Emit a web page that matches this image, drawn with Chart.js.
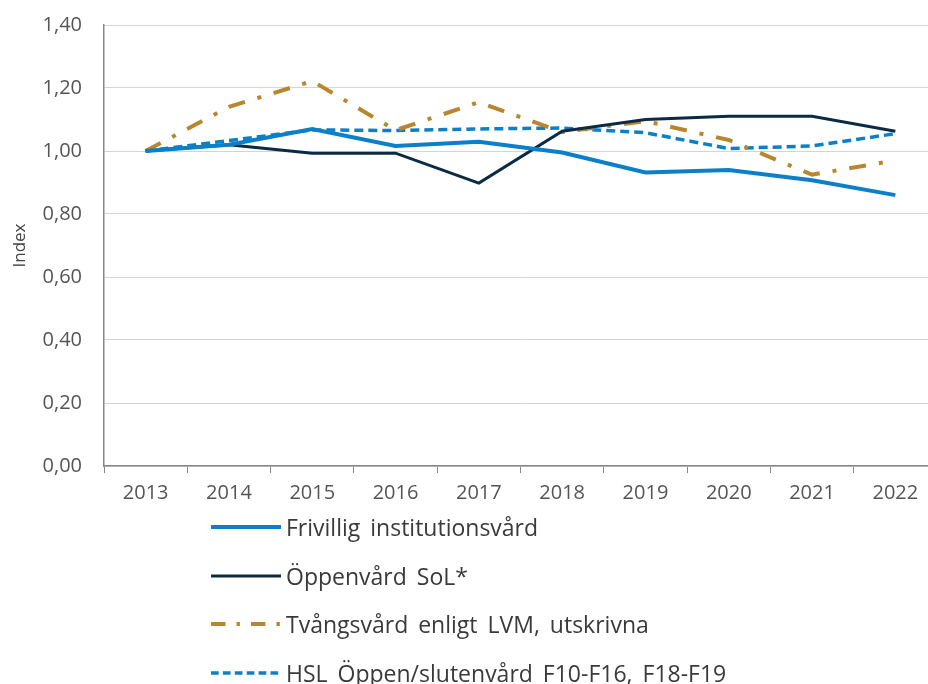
<!DOCTYPE html>
<html>
<head>
<meta charset="utf-8">
<script src="https://cdn.jsdelivr.net/npm/chart.js@4"></script>
<style>
    body { margin: 0; background: #fff; overflow: hidden; width: 928px; height: 684px; position: relative; }
    #wrap { position: absolute; left: 0; top: -9px; width: 937px; height: 519px; }
    #legend { position: absolute; left: 210px; top: 503px; font-family: "Open Sans", sans-serif; font-weight: 400; font-size: 23px; color: #3a3a3a; word-spacing: 4px; }
    .item { position: relative; height: 48.5px; display: flex; align-items: center; }
    .item svg { width: 72px; height: 10px; margin-right: 4px; }
</style>
</head>
<body>
<div id="wrap"><canvas id="chart"></canvas></div>
<div id="legend"></div>
<script>
const years = ['2013', '2014', '2015', '2016', '2017', '2018', '2019', '2020', '2021', '2022'];
const frivillig = [1.00, 1.02, 1.07, 1.016, 1.029, 0.995, 0.932, 0.94, 0.907, 0.86];
const oppenvard = [1.00, 1.02, 0.993, 0.993, 0.898, 1.063, 1.10, 1.11, 1.11, 1.063];
const tvangsvard = [1.00, 1.14, 1.222, 1.066, 1.155, 1.06, 1.095, 1.035, 0.925, 0.97];
const hsl = [1.00, 1.033, 1.067, 1.065, 1.07, 1.073, 1.058, 1.008, 1.016, 1.055];
const yTicks = [0, 0.2, 0.4, 0.6, 0.8, 1.0, 1.2, 1.4];

const seriesNames = [
    'Frivillig institutionsvård',
    'Öppenvård SoL*',
    'Tvångsvård enligt LVM, utskrivna',
    'HSL Öppen/slutenvård F10-F16, F18-F19'
];

const datasets = [
    { label: seriesNames[0], data: frivillig, borderColor: '#0b80c9', borderWidth: 4 },
    { label: seriesNames[1], data: oppenvard, borderColor: '#0b2b45', borderWidth: 3 },
    { label: seriesNames[2], data: tvangsvard, borderColor: '#b8862f', borderWidth: 4, borderDash: [17, 13, 4, 13] },
    { label: seriesNames[3], data: hsl, borderColor: '#0b80c9', borderWidth: 3.5, borderDash: [9, 5] }
].map(d => Object.assign({ pointRadius: 0, tension: 0, fill: false }, d));

const tickFont = { family: '"Open Sans", sans-serif', size: 20, weight: '400' };

new Chart(document.getElementById('chart'), {
    type: 'line',
    data: { labels: years, datasets: datasets },
    options: {
        responsive: true,
        maintainAspectRatio: false,
        animation: false,
        layout: { padding: { top: 12, left: 0, right: 0, bottom: 0 } },
        plugins: {
            legend: { display: false },
            tooltip: { enabled: false }
        },
        scales: {
            x: {
                offset: true,
                grid: { offset: true, drawOnChartArea: false, color: '#888', tickLength: 7 },
                border: { color: '#888', width: 1.5 },
                ticks: { color: '#555', font: tickFont, padding: 8, maxRotation: 0 },
                afterFit: scale => { scale.height = 44; }
            },
            y: {
                min: 0,
                max: 1.4,
                afterBuildTicks: scale => { scale.ticks = yTicks.map(v => ({ value: v })); },
                grid: { color: '#d4d4d4', drawTicks: false },
                border: { color: '#888', width: 1.5 },
                ticks: {
                    color: '#555',
                    font: tickFont,
                    padding: 22,
                    callback: v => Number(v).toFixed(2).replace('.', ',')
                },
                title: {
                    display: true,
                    text: 'Index',
                    color: '#444',
                    font: { family: '"Open Sans", sans-serif', size: 17, weight: '400' },
                    padding: { top: 10, bottom: 0 }
                },
                afterFit: scale => { scale.width = 104; }
            }
        }
    }
});

// legend below chart, one entry per row
const legend = document.getElementById('legend');
datasets.forEach(d => {
    const row = document.createElement('div');
    row.className = 'item';
    const dash = d.borderDash ? d.borderDash.map(n => n * 0.85).join(' ') : 'none';
    row.innerHTML = '<svg viewBox="0 0 72 10"><line x1="1" y1="5" x2="71" y2="5" stroke="' + d.borderColor +
        '" stroke-width="' + d.borderWidth + '" stroke-dasharray="' + dash + '"/></svg><span>' + d.label + '</span>';
    legend.appendChild(row);
});
</script>
</body>
</html>
